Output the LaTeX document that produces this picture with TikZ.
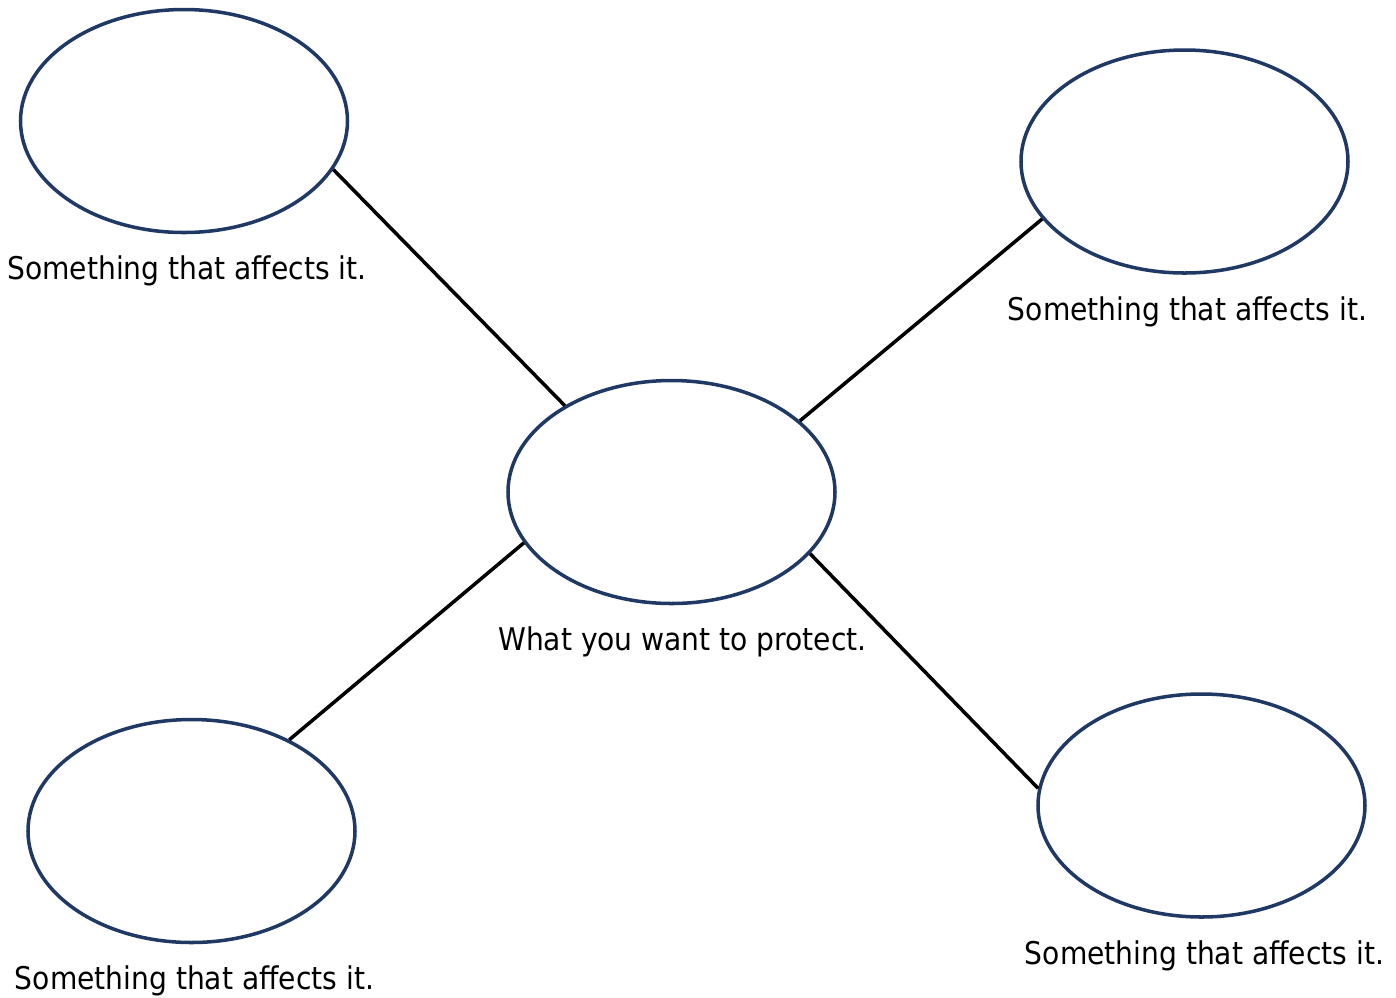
\documentclass[tikz,border=0pt]{standalone}
\usepackage{fontspec}
\setmainfont{DejaVu Sans Condensed}
\usetikzlibrary{shapes.geometric, positioning}
\definecolor{navy}{RGB}{31,56,100}
\tikzstyle{bubble} = [ellipse, line width=1pt, draw=navy, minimum width=3.27cm, minimum height=2.23cm, inner sep=0pt]
\tikzstyle{caption} = [inner sep=0pt, font=\fontsize{8.9}{10}\selectfont]
\tikzstyle{link} = [line width=1pt, black]

\begin{document}
\begin{tikzpicture}[node distance = 0.21cm]
	\useasboundingbox (0,0) rectangle (13.96,-9.98);
	\node (Protect) [bubble] at (6.715,-4.92) {};
	\node (FactorA) [bubble] at (1.84,-1.21) {};
	\node (FactorB) [bubble] at (11.845,-1.615) {};
	\node (FactorC) [bubble] at (1.915,-8.31) {};
	\node (FactorD) [bubble] at (12.015,-8.055) {};
	\node (ProtectText) [caption, below = of Protect, xshift=0.11cm] {What you want to protect.};
	\node (FactorAText) [caption, below = of FactorA, xshift=0.03cm] {Something that affects it.};
	\node (FactorBText) [caption, below = of FactorB, xshift=0.03cm] {Something that affects it.};
	\node (FactorCText) [caption, below = of FactorC, xshift=0.03cm] {Something that affects it.};
	\node (FactorDText) [caption, below = of FactorD, xshift=0.03cm] {Something that affects it.};
	\draw [link] (FactorA.-18) -- (Protect.141);
	\draw [link] (Protect.29) -- (FactorB.202);
	\draw [link] (Protect.199) -- (FactorC.43);
	\draw [link] (Protect.-24) -- (FactorD.174);
\end{tikzpicture}
\end{document}
